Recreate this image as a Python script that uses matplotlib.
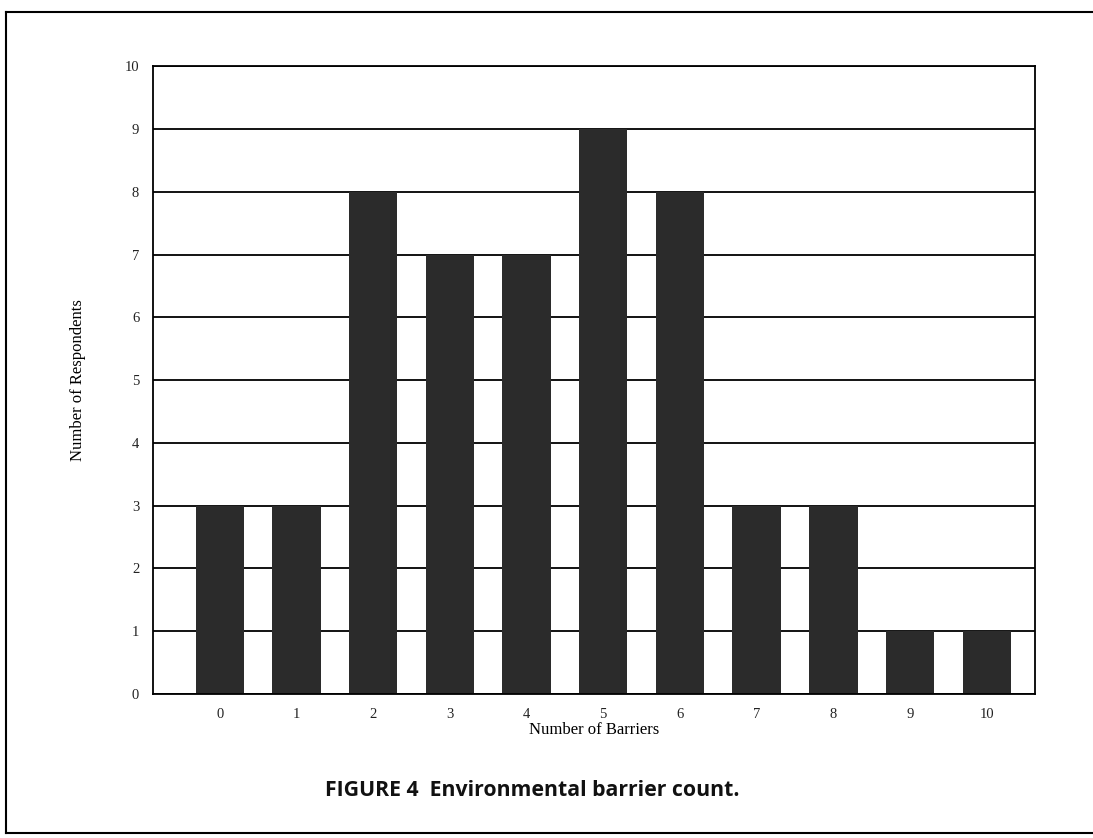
import matplotlib
matplotlib.use("Agg")
import matplotlib.pyplot as plt
from matplotlib.lines import Line2D

barriers = list(range(11))
respondents = [3, 3, 8, 7, 7, 9, 8, 3, 3, 1, 1]
y_ticks = list(range(11))

caption = "FIGURE 4  Environmental barrier count."

fig = plt.figure(figsize=(10.93, 8.38), dpi=100)
ax = fig.add_axes([0.140, 0.172, 0.807, 0.749])

ax.bar(barriers, respondents, width=0.63, color="#2b2b2b", zorder=2)

ax.set_xlim(-0.87, 10.63)
ax.set_ylim(0, 10)
ax.set_yticks(y_ticks)
ax.set_xticks(barriers)
ax.yaxis.grid(True, color="black", linewidth=1.3, zorder=1)
ax.set_axisbelow(True)
ax.tick_params(length=0, labelsize=10.5, pad=10)
for lab in ax.get_xticklabels() + ax.get_yticklabels():
    lab.set_family("Liberation Serif")
    lab.set_color("#222222")
for s in ax.spines.values():
    s.set_linewidth(1.3)

ax.set_xlabel("Number of Barriers", family="Liberation Serif", fontsize=12, labelpad=1)
ax.set_ylabel("Number of Respondents", family="Liberation Serif", fontsize=12, labelpad=28)

fig.text(0.487, 0.057, caption, ha="center", va="center",
         fontsize=15.3, fontweight="bold", family="Open Sans", color="#111111")

# scanned page frame
fig.add_artist(Line2D([0.0055, 1.0], [0.986, 0.986], color="black", lw=1.5))
fig.add_artist(Line2D([0.0055, 0.0055], [0.006, 0.986], color="black", lw=1.5))
fig.add_artist(Line2D([0.0055, 1.0], [0.006, 0.006], color="black", lw=1.5))

fig.savefig("out.png", dpi=100)
